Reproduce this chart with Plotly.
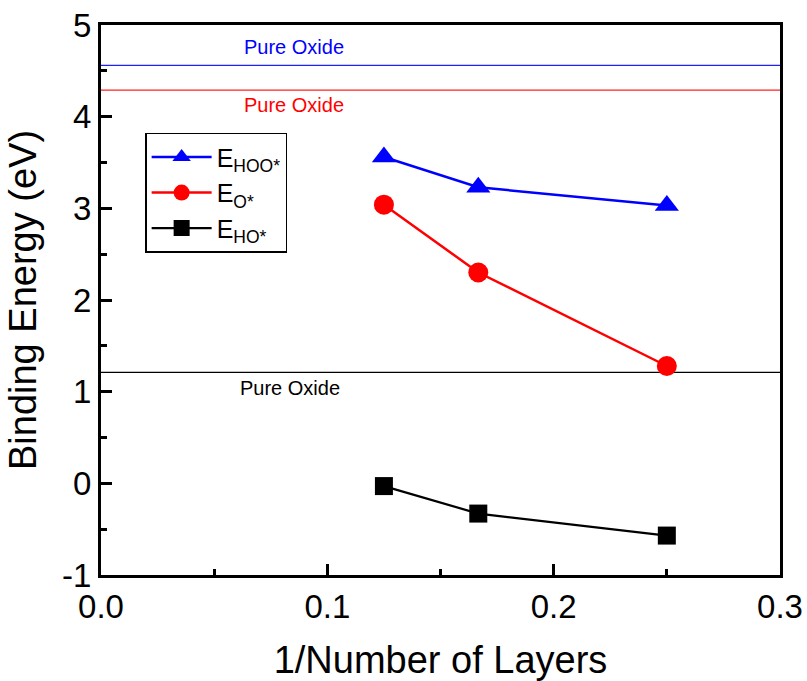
import plotly.graph_objects as go

# Data
inv_layers = [0.125, 0.1667, 0.25]
e_hoo = [3.56, 3.23, 3.03]
e_o = [3.04, 2.30, 1.28]
e_ho = [-0.03, -0.33, -0.57]

ref_x = [0.0, 0.3]
ref_hoo = 4.56
ref_o = 4.29
ref_ho = 1.21

y_tickvals = [-1, 0, 1, 2, 3, 4, 5]
y_ticktext = ["-1", "0", "1", "2", "3", "4", "5"]
x_tickvals = [0.0, 0.1, 0.2, 0.3]
x_ticktext = ["0.0", "0.1", "0.2", "0.3"]

FONT = "Liberation Sans, Arial, sans-serif"

fig = go.Figure()

# Reference lines (pure oxide)
fig.add_trace(go.Scatter(x=ref_x, y=[ref_hoo, ref_hoo], mode="lines",
                         line=dict(color="#2020ff", width=1.3), showlegend=False, hoverinfo="skip"))
fig.add_trace(go.Scatter(x=ref_x, y=[ref_o, ref_o], mode="lines",
                         line=dict(color="#ff2020", width=1.3), showlegend=False, hoverinfo="skip"))
fig.add_trace(go.Scatter(x=ref_x, y=[ref_ho, ref_ho], mode="lines",
                         line=dict(color="#000000", width=1.1), showlegend=False, hoverinfo="skip"))

# Data series
fig.add_trace(go.Scatter(x=inv_layers, y=e_hoo, mode="lines+markers", name="E<sub>HOO*</sub>",
                         line=dict(color="#0000ff", width=2.5),
                         marker=dict(symbol="triangle-up", size=21, color="#0000ff")))
fig.add_trace(go.Scatter(x=inv_layers, y=e_o, mode="lines+markers", name="E<sub>O*</sub>",
                         line=dict(color="#ff0000", width=2.5),
                         marker=dict(symbol="circle", size=20, color="#ff0000")))
fig.add_trace(go.Scatter(x=inv_layers, y=e_ho, mode="lines+markers", name="E<sub>HO*</sub>",
                         line=dict(color="#000000", width=2.2),
                         marker=dict(symbol="square", size=18, color="#000000")))

# Labels for reference lines
fig.add_annotation(x=0.0853, y=4.76, text="Pure Oxide", showarrow=False,
                   font=dict(family=FONT, size=20, color="#0000ff"))
fig.add_annotation(x=0.0853, y=4.13, text="Pure Oxide", showarrow=False,
                   font=dict(family=FONT, size=20, color="#ff0000"))
fig.add_annotation(x=0.0833, y=1.04, text="Pure Oxide", showarrow=False,
                   font=dict(family=FONT, size=20, color="#000000"))

fig.update_layout(
    width=807, height=681,
    margin=dict(l=101, r=27, t=25, b=106),
    paper_bgcolor="white", plot_bgcolor="white",
    font=dict(family=FONT, color="black"),
    legend=dict(x=0.065, y=0.804, xanchor="left", yanchor="top",
                bordercolor="black", borderwidth=1.5, bgcolor="white",
                font=dict(family=FONT, size=25, color="black"),
                itemwidth=60, tracegroupgap=0),
)

fig.update_xaxes(
    range=[0, 0.3], tickvals=x_tickvals, ticktext=x_ticktext,
    automargin=False,
    showgrid=False, zeroline=False,
    showline=True, linecolor="black", linewidth=3, mirror=True,
    ticks="inside", ticklen=11, tickwidth=3, tickcolor="black",
    minor=dict(dtick=0.05, tick0=0, ticks="inside", ticklen=6, tickwidth=3, tickcolor="black", showgrid=False),
    tickfont=dict(family=FONT, size=33, color="black"),
    title=dict(text="1/Number of Layers", font=dict(family=FONT, size=38, color="black"), standoff=28),
)
fig.update_yaxes(
    range=[-1, 5], tickvals=y_tickvals, ticktext=y_ticktext,
    automargin=False,
    showgrid=False, zeroline=False,
    showline=True, linecolor="black", linewidth=3, mirror=True,
    ticks="inside", ticklen=11, tickwidth=3, tickcolor="black",
    minor=dict(dtick=0.5, tick0=0, ticks="inside", ticklen=6, tickwidth=3, tickcolor="black", showgrid=False),
    tickfont=dict(family=FONT, size=33, color="black"),
    title=dict(text="Binding Energy (eV)", font=dict(family=FONT, size=38, color="black"), standoff=14),
)

fig.write_html("out.html")
